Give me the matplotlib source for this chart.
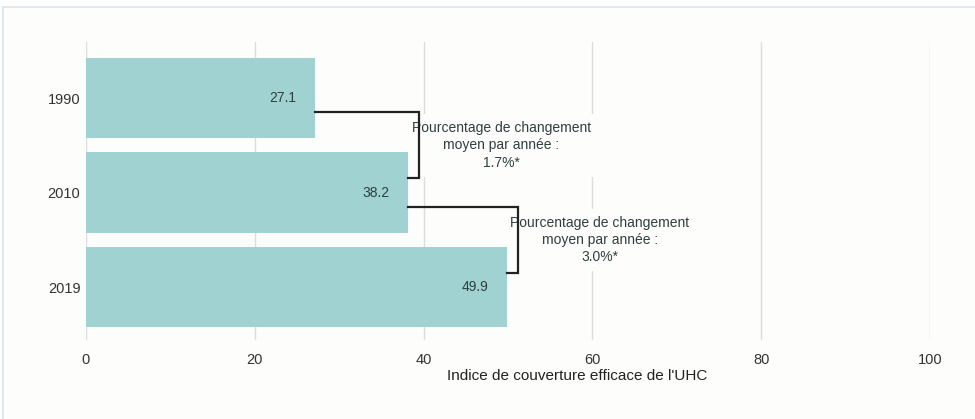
import matplotlib.pyplot as plt
from matplotlib.patches import Rectangle

# data
years = ['1990', '2010', '2019']
uhc_index = [27.1, 38.2, 49.9]
change_labels = ['Pourcentage de changement\nmoyen par année :\n1.7%*',
                 'Pourcentage de changement\nmoyen par année :\n3.0%*']
x_ticks = [0, 20, 40, 60, 80, 100]

bar_color = '#a0d2d2'
text_color = '#2f3f3f'
bg_color = '#fdfdfb'

plt.rcParams['font.family'] = ['Liberation Sans', 'DejaVu Sans']

fig = plt.figure(figsize=(9.75, 4.19), dpi=100)
fig.patch.set_facecolor('white')
# light frame around the chart area
fig.patches.append(Rectangle((3 / 975, -0.01), 1.0, 1 - 7 / 419 + 0.01,
                             transform=fig.transFigure, facecolor=bg_color,
                             edgecolor='#dde4ee', lw=1.2, zorder=-10))

ax = fig.add_axes([86 / 975, 1 - 340 / 419, (930 - 86) / 975, (340 - 42) / 419])
ax.set_facecolor('none')
ax.set_zorder(1)

pos = list(range(len(years)))
ax.barh(pos, uhc_index, height=0.85, color=bar_color, zorder=2)

for p, v in zip(pos, uhc_index):
    ax.text(v - 2.2, p, f'{v}', ha='right', va='center', fontsize=10,
            color=text_color, zorder=3)

# brackets between consecutive bars
for i in range(len(years) - 1):
    v0, v1 = uhc_index[i], uhc_index[i + 1]
    xr = v1 + 1.3
    y0, y1 = pos[i] + 0.15, pos[i + 1] - 0.15
    ax.plot([v0, xr, xr, v1], [y0, y0, y1, y1], color='#222222', lw=1.6,
            zorder=4, solid_joinstyle='miter')
    # box sits above the grid but under the bars
    ax.text(xr + 9.7, (y0 + y1) / 2, change_labels[i], ha='center',
            va='center', fontsize=10, color=text_color, linespacing=1.3,
            zorder=1,
            bbox=dict(boxstyle='square,pad=0.5', facecolor=bg_color,
                      edgecolor='none'))

ax.set_xlim(0, 100)
ax.set_ylim(2.56, -0.593)
ax.set_xticks(x_ticks)
ax.set_yticks(pos)
ax.set_yticklabels(years)
ax.tick_params(axis='both', length=0, labelsize=10.5, labelcolor='#333333')
ax.tick_params(axis='x', pad=9)
ax.tick_params(axis='y', pad=4)
ax.grid(axis='x', color='#dcdcdc', lw=1, zorder=0)
ax.set_axisbelow(True)
for s in ax.spines.values():
    s.set_visible(False)

fig.text(577 / 975, 1 - 376 / 419, "Indice de couverture efficace de l'UHC",
         ha='center', va='center', fontsize=11, color='#222222')

fig.savefig('out.png', dpi=100)
